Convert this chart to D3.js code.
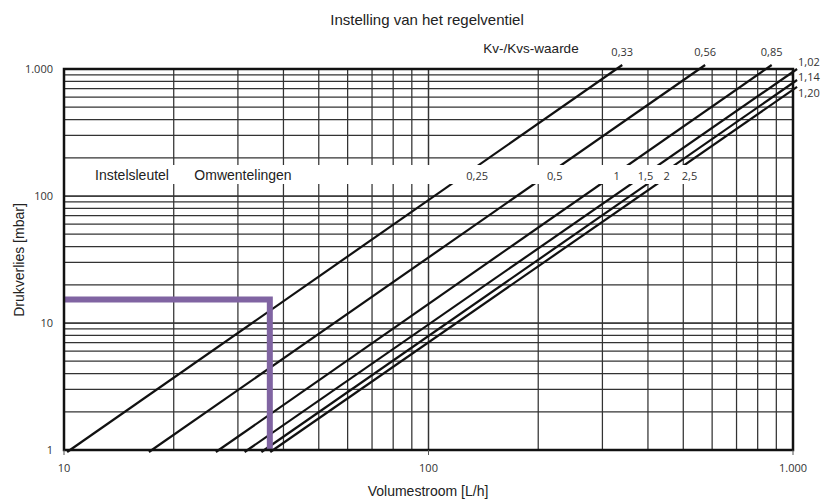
<!DOCTYPE html>
<html lang="nl">
<head>
    <meta charset="UTF-8">
    <title>D3 - Regelventiel</title>
    <script src="https://d3js.org/d3.v7.min.js"></script>
    <style>
        body{
            margin: 0;
            background-color: white;
        }
        #canvas{
            width: 822px;
            height: 500px;
            display: block;
        }
        .grid line{
            stroke: #333;
            stroke-width: 1.25px;
        }
        .kv{
            stroke: #111;
            stroke-width: 2.2px;
            fill: none;
        }
        .num{
            font-family: "Open Sans", sans-serif;
            font-size: 11px;
            fill: #333;
        }
        .lbl{
            font-family: "Liberation Sans", Arial, sans-serif;
            fill: #222;
        }
    </style>
</head>
<body>
<svg id="canvas" viewBox="0 0 822 500"></svg>
<script>
    // data
    const kvLabels = ["0,33", "0,56", "0,85", "1,02", "1,14", "1,20"];
    const turnLabels = ["0,25", "0,5", "1", "1,5", "2", "2,5"];
    // each line: start [flow L/h, mbar] and end [flow L/h, mbar]
    const lineStart = [[10.2, 0.964], [17.1, 0.964], [26.1, 0.964], [31.3, 0.964], [34.8, 0.964], [36.8, 0.964]];
    const lineEnd = [[340, 1075], [574, 1075], [874, 1075], [1026, 1000], [1026, 819], [1026, 722]];
    // where the "omwentelingen" labels sit (flow L/h)
    const turnPos = [136, 222, 328, 394, 450, 520];
    const xTicks = [10, 100, 1000];
    const xTickLabels = ["10", "100", "1.000"];
    const yTicks = [1, 10, 100, 1000];
    const yTickLabels = ["1", "10", "100", "1.000"];
    // example point (purple)
    const markFlow = 36.7;
    const markDp = 15.3;

    let svg = d3.select('svg');

    const x = d3.scaleLog().domain([10, 1000]).range([64, 793]);
    const y = d3.scaleLog().domain([1, 1000]).range([450, 69]);

    // grid: 1..9 per decade
    let xGrid = [], yGrid = [];
    [10, 100].forEach(d => { for (let i = 1; i <= 10; i++) xGrid.push(d * i); });
    [1, 10, 100].forEach(d => { for (let i = 1; i <= 10; i++) yGrid.push(d * i); });

    let grid = svg.append('g').attr("class", "grid");
    grid.selectAll('line.v')
        .data(xGrid)
        .enter()
        .append('line')
        .attr("class", "v")
        .attr("x1", d => x(d)).attr("x2", d => x(d))
        .attr("y1", y(1)).attr("y2", y(1000));
    grid.selectAll('line.h')
        .data(yGrid)
        .enter()
        .append('line')
        .attr("class", "h")
        .attr("x1", x(10)).attr("x2", x(1000))
        .attr("y1", d => y(d)).attr("y2", d => y(d));

    // Kv lines
    let lineGen = d3.line().x(d => x(d[0])).y(d => y(d[1]));
    svg.append('g').selectAll('path')
        .data(kvLabels.map((k, i) => [lineStart[i], lineEnd[i]]))
        .enter()
        .append('path')
        .attr("class", "kv")
        .attr("d", lineGen);

    // white band with the key labels
    svg.append('rect')
        .attr("x", x(10) + 2).attr("y", 165)
        .attr("width", x(570) - x(10) - 2).attr("height", 19)
        .attr("fill", "white");

    svg.append('text').attr("class", "lbl")
        .attr("x", 132).attr("y", 180).attr("text-anchor", "middle")
        .style("font-size", "14px").text("Instelsleutel");
    svg.append('text').attr("class", "lbl")
        .attr("x", 243).attr("y", 180).attr("text-anchor", "middle")
        .style("font-size", "14px").text("Omwentelingen");

    svg.selectAll('text.turn')
        .data(turnLabels)
        .enter()
        .append('text')
        .attr("class", "num turn")
        .attr("x", (d, i) => x(turnPos[i]))
        .attr("y", 180)
        .attr("text-anchor", "middle")
        .text(d => d);

    // Kv labels: above the top for lines leaving through the top, right of the frame otherwise
    const sideY = [66, 81, 97];
    let side = 0;
    svg.selectAll('text.kvl')
        .data(kvLabels)
        .enter()
        .append('text')
        .attr("class", "num kvl")
        .each(function(d, i) {
            let t = d3.select(this);
            if (lineEnd[i][0] >= 1000) {
                t.attr("x", x(1000) + 5).attr("y", sideY[side++]).attr("text-anchor", "start");
            } else {
                t.attr("x", x(lineEnd[i][0])).attr("y", 56).attr("text-anchor", "middle");
            }
        })
        .text(d => d);

    // purple reading lines
    svg.append('path')
        .attr("d", d3.line()([[x(10), y(markDp)], [x(markFlow), y(markDp)], [x(markFlow), y(1)]]))
        .attr("fill", "none")
        .attr("stroke", "#8064a2")
        .attr("stroke-width", 6)
        .attr("stroke-linejoin", "miter");

    // frame
    svg.append('rect')
        .attr("x", x(10)).attr("y", y(1000))
        .attr("width", x(1000) - x(10)).attr("height", y(1) - y(1000))
        .attr("fill", "none").attr("stroke", "#111").attr("stroke-width", 2.5);

    // ticks + labels
    svg.selectAll('line.xt')
        .data(xTicks)
        .enter()
        .append('line')
        .attr("x1", d => x(d)).attr("x2", d => x(d))
        .attr("y1", y(1)).attr("y2", y(1) + 5)
        .attr("stroke", "#555").attr("stroke-width", 1);
    svg.selectAll('text.xl')
        .data(xTicks)
        .enter()
        .append('text')
        .attr("class", "num xl")
        .attr("x", d => x(d))
        .attr("y", 472)
        .attr("text-anchor", "middle")
        .text((d, i) => xTickLabels[i]);
    svg.selectAll('text.yl')
        .data(yTicks)
        .enter()
        .append('text')
        .attr("class", "num yl")
        .attr("x", 53)
        .attr("y", d => y(d) + 4)
        .attr("text-anchor", "end")
        .text((d, i) => yTickLabels[i]);

    // titles
    svg.append('text').attr("class", "lbl")
        .attr("x", 427).attr("y", 25).attr("text-anchor", "middle")
        .style("font-size", "15px").text("Instelling van het regelventiel");
    svg.append('text').attr("class", "lbl")
        .attr("x", 531).attr("y", 53).attr("text-anchor", "middle")
        .style("font-size", "13.5px").text("Kv-/Kvs-waarde");
    svg.append('text').attr("class", "lbl")
        .attr("x", 428).attr("y", 496).attr("text-anchor", "middle")
        .style("font-size", "14px").text("Volumestroom [L/h]");
    svg.append('text').attr("class", "lbl")
        .attr("transform", "translate(24,260) rotate(-90)")
        .attr("text-anchor", "middle")
        .style("font-size", "14px").text("Drukverlies [mbar]");
</script>
</body>
</html>
